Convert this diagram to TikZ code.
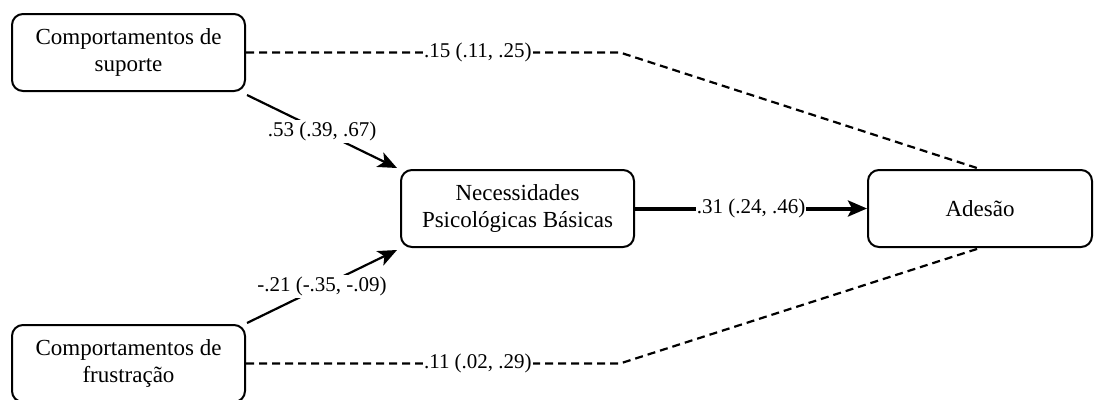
\documentclass[tikz,border=0pt]{standalone}
\usepackage{fontspec}
\setmainfont{Liberation Serif}
\usetikzlibrary{arrows.meta}
\tikzset{
  box/.style={draw, line width=2pt, rounded corners=11pt, minimum width=233pt, minimum height=77pt,
    align=center, inner sep=0pt, font=\fontsize{23}{26.5}\selectfont},
  lbl/.style={fill=white, inner sep=2pt, font=\fontsize{21}{24}\selectfont},
  solidarrow/.style={line width=2.2pt, -{Stealth[length=19pt,width=16pt,inset=5pt]}},
  thickarrow/.style={line width=4pt, -{Stealth[length=19pt,width=16pt,inset=4pt]}},
  dashline/.style={line width=2.2pt, dash pattern=on 8pt off 5pt},
}
\begin{document}
\begin{tikzpicture}[x=1pt,y=-1pt]
\useasboundingbox (0,0) rectangle (1094,399);
\node[box] (s1) at (128.5,52.5) {Comportamentos de\\suporte};
\node[box] (s2) at (128.5,363.5) {Comportamentos de\\frustração};
\node[box] (npb) at (517.5,208.5) {Necessidades\\Psicológicas Básicas};
\node[box, minimum width=224pt] (ad) at (980,208.5) {Adesão};
\coordinate (b1) at (620,52.5);
\coordinate (b2) at (620,363.5);
\draw[solidarrow] ([xshift=1pt,yshift=-3pt]s1.south east) -- node[lbl]{.53 (.39, .67)} ([xshift=-3pt,yshift=1pt]npb.north west);
\draw[solidarrow] ([xshift=1pt,yshift=1pt]s2.north east) -- node[lbl]{-.21 (-.35, -.09)} ([xshift=-3pt,yshift=-2pt]npb.south west);
\draw[thickarrow] (npb.east) -- node[lbl,inner sep=1pt]{.31 (.24, .46)} (ad.west);
\draw[dashline] (s1.east) -- node[lbl,pos=0.62,inner sep=1pt]{.15 (.11, .25)} (b1) -- (ad.north);
\draw[dashline] (s2.east) -- node[lbl,pos=0.62,inner sep=1pt]{.11 (.02, .29)} (b2) -- (ad.south);
\end{tikzpicture}
\end{document}
